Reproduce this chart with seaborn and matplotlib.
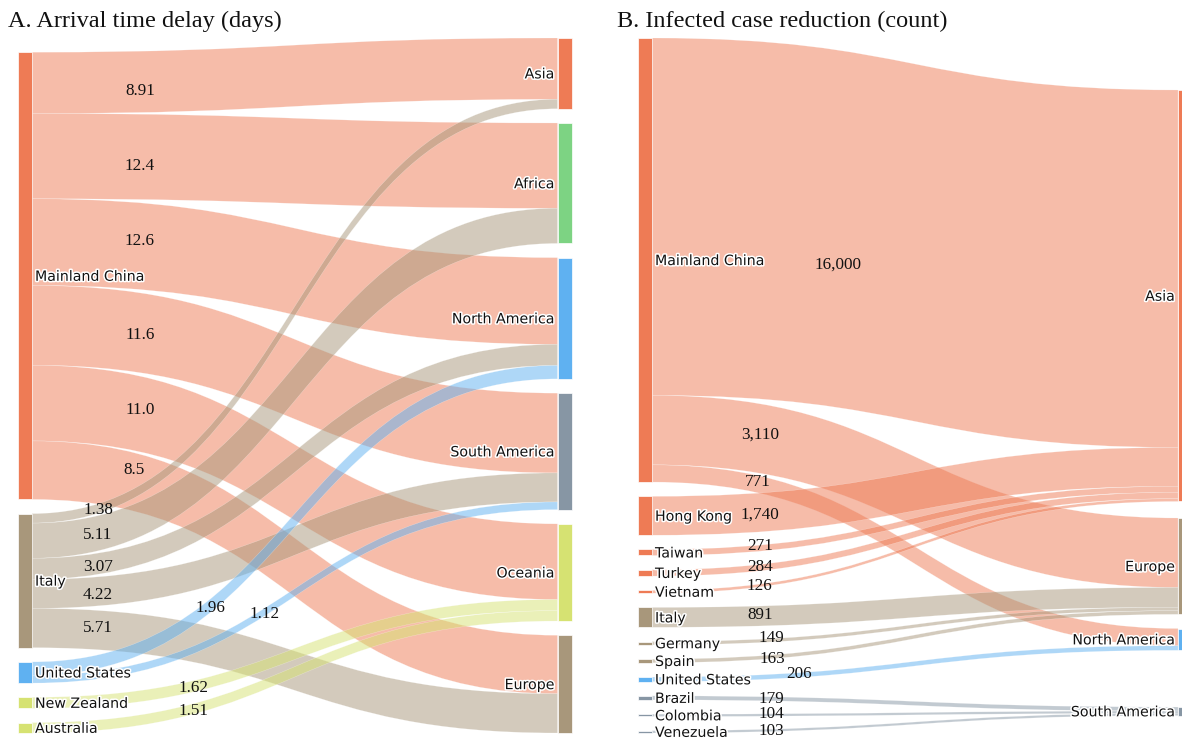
import numpy as np
import matplotlib
matplotlib.use("Agg")
import matplotlib.pyplot as plt
import matplotlib.patheffects as pe
from matplotlib.path import Path
from matplotlib.patches import PathPatch, Rectangle
import seaborn as sns

sns.set_theme(style="white")
plt.rcParams["font.family"] = ["DejaVu Sans"]

# ---------------- Panel A: arrival time delay (days) ----------------
a_sources = ["Mainland China", "Italy", "United States", "New Zealand", "Australia"]
a_targets = ["Asia", "Africa", "North America", "South America", "Oceania", "Europe"]
a_link_src = ["Mainland China"] * 6 + ["Italy"] * 5 + ["United States"] * 2 + ["New Zealand", "Australia"]
a_link_tgt = ["Asia", "Africa", "North America", "South America", "Oceania", "Europe",
              "Asia", "Africa", "North America", "South America", "Europe",
              "North America", "South America", "Oceania", "Oceania"]
a_link_val = [8.91, 12.4, 12.6, 11.6, 11.0, 8.5,
              1.38, 5.11, 3.07, 4.22, 5.71,
              1.96, 1.12, 1.62, 1.51]
a_link_text = ["8.91", "12.4", "12.6", "11.6", "11.0", "8.5",
               "1.38", "5.11", "3.07", "4.22", "5.71",
               "1.96", "1.12", "1.62", "1.51"]

# ---------------- Panel B: infected case reduction (count) ----------------
b_sources = ["Mainland China", "Hong Kong", "Taiwan", "Turkey", "Vietnam", "Italy",
             "Germany", "Spain", "United States", "Brazil", "Colombia", "Venezuela"]
b_targets = ["Asia", "Europe", "North America", "South America"]
b_link_src = ["Mainland China"] * 3 + ["Hong Kong", "Taiwan", "Turkey", "Vietnam",
                                       "Italy", "Germany", "Spain", "United States",
                                       "Brazil", "Colombia", "Venezuela"]
b_link_tgt = ["Asia", "Europe", "North America", "Asia", "Asia", "Asia", "Asia",
              "Europe", "Europe", "Europe", "North America",
              "South America", "South America", "South America"]
b_link_val = [16000, 3110, 771, 1740, 271, 284, 126, 891, 149, 163, 206, 179, 104, 103]
b_link_text = [f"{v:,}" for v in b_link_val]

# ---------------- colours ----------------
ORANGE, TAN, BLUE = "#EE7B55", "#A8977B", "#5FB1F1"
GREEN, SLATE, LIME = "#7DD383", "#8796A4", "#D6E272"
node_color = {
    "Mainland China": ORANGE, "Hong Kong": ORANGE, "Taiwan": ORANGE, "Turkey": ORANGE,
    "Vietnam": ORANGE, "Asia": ORANGE,
    "Italy": TAN, "Germany": TAN, "Spain": TAN, "Europe": TAN,
    "United States": BLUE, "North America": BLUE,
    "Brazil": SLATE, "Colombia": SLATE, "Venezuela": SLATE, "South America": SLATE,
    "Africa": GREEN,
    "New Zealand": LIME, "Australia": LIME, "Oceania": LIME,
}

FIG_W, FIG_H = 1182, 738
fig = plt.figure(figsize=(FIG_W / 100, FIG_H / 100), dpi=100)
ax = fig.add_axes([0, 0, 1, 1])
ax.set_xlim(0, FIG_W)
ax.set_ylim(FIG_H, 0)
ax.axis("off")

SERIF = "Liberation Serif"
NODE_FS = 10.2
VAL_FS = 12.3
VAL_RISE = 5.8      # half digit height in px, so labels sit centred on their anchor
halo = [pe.withStroke(linewidth=2.2, foreground="white")]


def stack(heights, bottom, pad):
    """Tops of a column of nodes stacked upward so the last one ends at `bottom`."""
    total = sum(heights) + pad * (len(heights) - 1)
    tops, y = [], bottom - total
    for h in heights:
        tops.append(y)
        y += h + pad
    return tops


def bezier_u_for_xfrac(xf):
    u = np.linspace(0, 1, 2001)
    xs = 1.5 * u * (1 - u) + u ** 3
    return np.interp(xf, xs, u)


def draw_sankey(sources, targets, link_src, link_tgt, link_val, link_text,
                x_left, x_right, node_w, bottom, pad, scale,
                label_x, label_dy, right_tops=None):
    src_tot = {n: 0.0 for n in sources}
    tgt_tot = {n: 0.0 for n in targets}
    for s, t, v in zip(link_src, link_tgt, link_val):
        src_tot[s] += v
        tgt_tot[t] += v
    src_h = [src_tot[n] * scale for n in sources]
    tgt_h = [tgt_tot[n] * scale for n in targets]
    src_top = dict(zip(sources, stack(src_h, bottom, pad)))
    if right_tops is None:
        right_tops = stack(tgt_h, bottom, pad)
    tgt_top = dict(zip(targets, right_tops))

    # band offsets: source side in link order, target side ordered by source
    s_off = dict(src_top)
    bands = [None] * len(link_val)
    for i, (s, v) in enumerate(zip(link_src, link_val)):
        h = v * scale
        bands[i] = [s_off[s], s_off[s] + h, None, None]
        s_off[s] += h
    t_off = dict(tgt_top)
    order = sorted(range(len(link_val)),
                   key=lambda i: (sources.index(link_src[i]), i))
    for i in order:
        t = link_tgt[i]
        h = link_val[i] * scale
        bands[i][2], bands[i][3] = t_off[t], t_off[t] + h
        t_off[t] += h

    x0 = x_left + node_w
    x1 = x_right
    xm = (x0 + x1) / 2
    for i, (s0, s1, t0, t1) in enumerate(bands):
        verts = [(x0, s0), (xm, s0), (xm, t0), (x1, t0), (x1, t1),
                 (xm, t1), (xm, s1), (x0, s1), (x0, s0)]
        codes = [Path.MOVETO, Path.CURVE4, Path.CURVE4, Path.CURVE4, Path.LINETO,
                 Path.CURVE4, Path.CURVE4, Path.CURVE4, Path.CLOSEPOLY]
        ax.add_patch(PathPatch(Path(verts, codes), facecolor=node_color[link_src[i]],
                               alpha=0.5, edgecolor="white", lw=0.25, zorder=1))

    # nodes
    for n, h in zip(sources, src_h):
        ax.add_patch(Rectangle((x_left, src_top[n]), node_w, h, facecolor=node_color[n],
                               edgecolor="white", lw=0.5, zorder=3))
        ax.text(x0 + 3, src_top[n] + h / 2 + 5, n, fontsize=NODE_FS, ha="left",
                va="baseline", color="#111111", path_effects=halo, zorder=5)
    for n, h in zip(targets, tgt_h):
        ax.add_patch(Rectangle((x_right, tgt_top[n]), node_w, h, facecolor=node_color[n],
                               edgecolor="white", lw=0.5, zorder=3))
        ax.text(x_right - 3, tgt_top[n] + h / 2 + 5, n, fontsize=NODE_FS, ha="right",
                va="baseline", color="#111111", path_effects=halo, zorder=5)

    # value labels, placed on the centre line of each flow
    for i, (s0, s1, t0, t1) in enumerate(bands):
        lx = label_x[i]
        u = bezier_u_for_xfrac((lx - x0) / (x1 - x0))
        yf = 3 * u ** 2 - 2 * u ** 3
        cs, ct = (s0 + s1) / 2, (t0 + t1) / 2
        cy = cs + (ct - cs) * yf + label_dy[i]
        ax.text(lx, cy + VAL_RISE, link_text[i], fontsize=VAL_FS, family=SERIF,
                ha="center", va="baseline", color="#111111", zorder=4)


# Panel A layout
a_total = sum(a_link_val)
a_pad = 14.2
a_scale = (733 - 38 - a_pad * (len(a_targets) - 1)) / a_total
a_label_x = [140, 140, 140, 140, 140, 134, 98, 98, 98, 98, 98, 210, 265, 194, 194]
a_label_dy = [7.6, 7.4, -7, 0, -6, -14, 0, 0, 1, 2, -4, 0, 0, 0, 0]
draw_sankey(a_sources, a_targets, a_link_src, a_link_tgt, a_link_val, a_link_text,
            18, 557.5, 14, 733, a_pad, a_scale, a_label_x, a_label_dy)

# Panel B layout
b_total = sum(b_link_val)
b_pad = 14.25
b_scale = (733 - 38 - b_pad * (len(b_sources) - 1)) / b_total
b_label_x = [838, 760, 758, 760, 760, 760, 759, 760, 771, 772, 799, 771, 771, 771]
b_label_dy = [34, -5.7, -4, 0.7, -4, -2.5, -1.6, -3, -4, 0, -3, -2, -3, -1.4]
draw_sankey(b_sources, b_targets, b_link_src, b_link_tgt, b_link_val, b_link_text,
            638, 1178, 14, 733, b_pad, b_scale, b_label_x, b_label_dy,
            right_tops=[90, 518, 628.5, 707])

ax.text(8, 27.5, "A. Arrival time delay (days)", family=SERIF, fontsize=17.5,
        ha="left", va="baseline", color="#111111")
ax.text(617, 27.5, "B. Infected case reduction (count)", family=SERIF, fontsize=17.5,
        ha="left", va="baseline", color="#111111")

fig.savefig("out.png", dpi=100, facecolor="white")
